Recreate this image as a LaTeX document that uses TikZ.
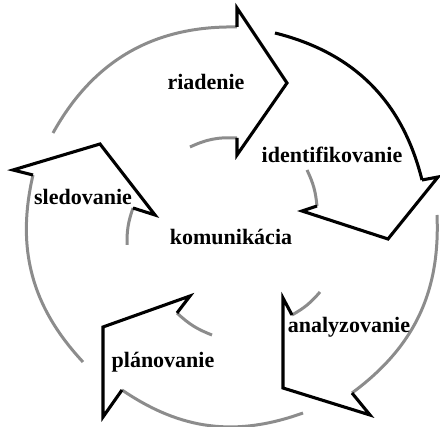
\documentclass[tikz,border=0pt]{standalone}
\usepackage{fontspec}
\setmainfont{Liberation Serif}
\begin{document}
\begin{tikzpicture}[x=1pt,y=1pt,
  headline/.style={draw=black,line width=3.1pt,line join=miter,miter limit=10},
  arcline/.style={draw=black!45,line width=3pt},
  arcblack/.style={draw=black,line width=3.1pt},
  lbl/.style={font=\fontsize{22}{26}\selectfont\bfseries,inner sep=0pt,anchor=base}]
\useasboundingbox (0,0) rectangle (440,427);
% riadenie
\coordinate (rOT) at (53,294);
\coordinate (rON) at (237,400);
\coordinate (rOB) at (237,419);
\coordinate (rTP) at (287,344);
\coordinate (rIB) at (237,272);
\coordinate (rIN) at (237,289);
\coordinate (rIT) at (190,280);
% identifikovanie
\coordinate (iOT) at (275,394);
\coordinate (iON) at (422,247);
\coordinate (iOB) at (438,250);
\coordinate (iTP) at (388,188);
\coordinate (iIB) at (302,216);
\coordinate (iIN) at (317,221);
\coordinate (iIT) at (307,257);
% analyzovanie
\coordinate (aOT) at (437,212);
\coordinate (aON) at (352,34);
\coordinate (aOB) at (370,12);
\coordinate (aC) at (283,39);
\coordinate (aIB) at (283,129);
\coordinate (aIN) at (292,112);
\coordinate (aIT) at (320,135);
% planovanie
\coordinate (pOT) at (303,14);
\coordinate (pON) at (122,37);
\coordinate (pOB) at (103,10);
\coordinate (pC) at (103,100);
\coordinate (pIB) at (190,131);
\coordinate (pIN) at (177,114);
\coordinate (pIT) at (212,92);
% sledovanie
\coordinate (sOT) at (83,65);
\coordinate (sON) at (33,252);
\coordinate (sOB) at (13,257);
\coordinate (sTP) at (100,283);
\coordinate (sIB) at (155,212);
\coordinate (sIN) at (133,219);
\coordinate (sIT) at (127,182);

% arcs
\draw[arcline] (rOT) to[bend left=31] (rON);
\draw[arcline] (rIT) to[bend left=14] (rIN);
\draw[arcblack] (iOT) to[bend left=31] (iON);
\draw[arcline] (iIT) to[bend left=10] (iIN);
\draw[arcline] (aOT) to[bend left=28] (aON);
\draw[arcline] (aIT) to[bend left=10] (aIN);
\draw[arcline] (pOT) to[bend left=27] (pON);
\draw[arcline] (pIT) to[bend left=11] (pIN);
\draw[arcline] (sOT) to[bend left=28] (sON);
\draw[arcline] (sIT) to[bend left=10] (sIN);

% arrow heads
\draw[headline] (rON) -- (rOB) -- (rTP) -- (rIB) -- (rIN);
\draw[headline] (iON) -- (iOB) -- (iTP) -- (iIB) -- (iIN);
\draw[headline] (aON) -- (aOB) -- (aC) -- (aIB) -- (aIN);
\draw[headline] (pON) -- (pOB) -- (pC) -- (pIB) -- (pIN);
\draw[headline] (sON) -- (sOB) -- (sTP) -- (sIB) -- (sIN);

% labels
\node[lbl] (riad) at (206,337) {riadenie};
\node[lbl] (iden) at (332,264) {identifikovanie};
\node[lbl] (komu) at (231,182) {komunikácia};
\node[lbl] (anal) at (349,94) {analyzovanie};
\node[lbl] (plan) at (163,59) {plánovanie};
\node[lbl] (sled) at (83,222) {sledovanie};
\end{tikzpicture}
\end{document}
